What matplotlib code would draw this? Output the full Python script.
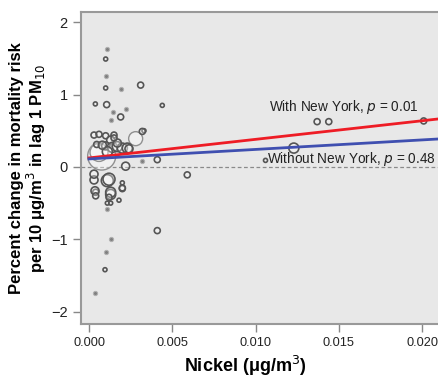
import numpy as np
import matplotlib.pyplot as plt

plt.rcParams['font.family'] = ['Liberation Sans', 'DejaVu Sans']

# city-specific estimates: nickel (ug/m3), % change in mortality, relative weight
nickel = [0.0011, 0.0010, 0.00104, 0.0010, 0.0019, 0.0031, 0.00038, 0.00106, 0.0022, 0.00144,
          0.0044, 0.0019, 0.0013, 0.0033, 0.0028, 0.0041, 0.0032, 0.0059, 0.0022, 0.00076,
          0.0003, 0.0011, 0.0004, 0.0013, 0.0020, 0.0020, 0.0011, 0.0013, 0.0018, 0.0011,
          0.0041, 0.0013, 0.0010, 0.00096, 0.00034,
          0.0137, 0.0144, 0.0201, 0.0123, 0.0106,
          0.0003, 0.0006, 0.0010, 0.0015, 0.0013, 0.0032, 0.00046, 0.0010, 0.0014, 0.0017,
          0.0020, 0.0023, 0.0006, 0.0011, 0.0003, 0.0012, 0.00036, 0.0013, 0.0020, 0.0017,
          0.0008, 0.0024, 0.0015, 0.0004, 0.0012]
mortality = [1.63, 1.49, 1.26, 1.09, 1.08, 1.13, 0.87, 0.86, 0.80, 0.76,
             0.85, 0.69, 0.65, 0.50, 0.39, 0.10, 0.08, -0.11, 0.01, 0.15,
             -0.18, -0.19, -0.35, -0.38, -0.22, -0.30, -0.50, -0.50, -0.46, -0.58,
             -0.88, -0.99, -1.17, -1.42, -1.74,
             0.625, 0.625, 0.635, 0.26, 0.09,
             0.44, 0.45, 0.43, 0.44, 0.37, 0.49, 0.31, 0.29, 0.27, 0.28,
             0.26, 0.26, 0.20, 0.21, -0.10, -0.17, -0.33, -0.35, -0.29, 0.33,
             0.30, 0.25, 0.40, -0.40, -0.42]
weight = [1, 2, 1, 2, 1, 3, 2, 3, 1, 1,
          2, 3, 1, 2, 7, 3, 1, 3, 4, 14,
          4, 6, 3, 5, 2, 3, 2, 2, 2, 1,
          3, 1, 1, 2, 1,
          3, 3, 3, 5, 2,
          3, 3, 3, 3, 4, 3, 3, 4, 5, 5,
          5, 5, 9, 5, 4, 6, 4, 5, 3, 4,
          4, 4, 3, 3, 3]

# meta-regression fits
fit_x = [0.0, 0.0210]
with_ny = [0.124, 0.663]
without_ny = [0.11, 0.386]

fig = plt.figure(figsize=(4.38, 3.77), dpi=100)
ax = fig.add_axes([0.185, 0.1406, 0.815, 0.8276])
ax.set_facecolor('#e8e8e8')

w = np.array(weight)
sizes = (w * 2 * 0.72) ** 2
dots = w <= 1
x = np.array(nickel)
y = np.array(mortality)
big = w >= 7
mid = ~dots & ~big
ax.scatter(x[big], y[big], s=sizes[big], facecolors=(1, 1, 1, 0.35),
           edgecolors='#909090', linewidths=1.0, zorder=3)
ax.scatter(x[mid], y[mid], s=sizes[mid], facecolors=(1, 1, 1, 0.3),
           edgecolors='#555555', linewidths=1.2, zorder=3)
ax.scatter(x[dots], y[dots], s=9, color='#808080', edgecolors='#b0b0b0',
           linewidths=0.8, zorder=3)

ax.axhline(0, color='#8a8a8a', lw=0.9, ls=(0, (3, 2)), zorder=2)
ax.plot(fit_x, with_ny, color='#ee1c25', lw=2, zorder=4)
ax.plot(fit_x, without_ny, color='#3f4fb0', lw=2, zorder=4)

ax.text(0.0108, 0.77, 'With New York, $\\it{p}$ = 0.01', fontsize=9.8, color='#222222', zorder=5)
ax.text(0.0107, 0.05, 'Without New York, $\\it{p}$ = 0.48', fontsize=9.8, color='#222222', zorder=5)

ax.set_xlim(-0.00048, 0.02096)
ax.set_ylim(-2.17, 2.14)
ax.set_xticks([0.0, 0.005, 0.010, 0.015, 0.020])
ax.set_xticklabels(['0.000', '0.005', '0.010', '0.015', '0.020'])
ax.set_yticks([-2, -1, 0, 1, 2])
ax.set_yticklabels(['\u22122', '\u22121', '0', '1', '2'])
ax.tick_params(axis='both', colors='#888888', labelcolor='#222222', labelsize=10.5,
               length=6, width=1)
ax.tick_params(axis='x', labelsize=9.2)

for side in ['left', 'bottom', 'top']:
    ax.spines[side].set_color('#999999')
    ax.spines[side].set_linewidth(1.5)
ax.spines['right'].set_visible(False)

ax.set_xlabel('Nickel (\u03bcg/m$^3$)', fontsize=13, fontweight='bold')
ax.xaxis.set_label_coords(0.46, -0.095)
ax.set_ylabel('Percent change in mortality risk\nper 10 \u03bcg/m$^3$ in lag 1 PM$_{10}$',
              fontsize=12, fontweight='bold', linespacing=1.05)
ax.yaxis.set_label_coords(-0.093, 0.5)

fig.savefig('out.png', dpi=100)
